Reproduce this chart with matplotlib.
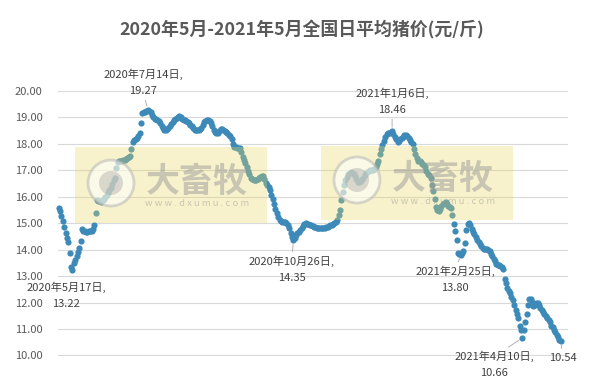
import matplotlib
matplotlib.use('Agg')
import matplotlib.pyplot as plt
from matplotlib.patches import Rectangle, Ellipse
import numpy as np

plt.rcParams['font.family'] = ['Noto Sans CJK SC', 'DejaVu Sans']

# 日均猪价 (元/斤), 2020年5月 - 2021年5月, 按日顺序读取
price_may20 = [15.58, 15.45, 15.26, 15.08, 14.85, 14.62, 14.45, 14.30, 13.87, 13.34,
               13.22, 13.48, 13.62, 13.75, 13.90, 14.05, 14.33, 14.76, 14.72, 14.70,
               14.68, 14.68, 14.69, 14.70, 14.72]
price_jun20 = [14.78, 14.93, 15.37, 15.87, 15.85, 15.82, 15.81, 15.86, 15.92, 15.98,
               16.06, 16.14, 16.24, 16.34, 16.48, 16.62, 16.72, 17.07, 17.30, 17.33,
               17.35, 17.36, 17.37, 17.38, 17.42, 17.46, 17.50, 17.55, 17.79, 18.07]
price_jul20 = [18.15, 18.18, 18.21, 18.30, 18.39, 18.77, 19.15, 19.18, 19.21, 19.22,
               19.27, 19.24, 19.18, 19.10, 19.00, 18.95, 18.92, 18.88, 18.84, 18.78,
               18.68, 18.58, 18.52, 18.53, 18.56, 18.60, 18.66, 18.74, 18.83, 18.88,
               18.94]
price_aug20 = [18.98, 19.01, 19.03, 19.00, 18.95, 18.90, 18.88, 18.85, 18.81, 18.78,
               18.72, 18.65, 18.58, 18.52, 18.50, 18.50, 18.51, 18.54, 18.60, 18.70,
               18.80, 18.85, 18.88, 18.89, 18.86, 18.78, 18.66, 18.52, 18.44, 18.40,
               18.39]
price_sep20 = [18.48, 18.57, 18.56, 18.52, 18.48, 18.45, 18.40, 18.34, 18.28, 18.16,
               18.00, 17.89, 17.86, 17.84, 17.83, 17.85, 17.70, 17.51, 17.40, 17.28,
               17.12, 16.98, 16.85, 16.72, 16.66, 16.64, 16.63, 16.63, 16.66, 16.70]
price_oct20 = [16.73, 16.76, 16.78, 16.65, 16.52, 16.44, 16.35, 16.25, 16.08, 15.92,
               15.72, 15.55, 15.40, 15.22, 15.10, 15.07, 15.06, 15.05, 15.06, 15.02,
               14.92, 14.82, 14.62, 14.48, 14.35, 14.45, 14.55, 14.62, 14.68, 14.75,
               14.82]
price_nov20 = [14.90, 14.96, 15.00, 14.98, 14.96, 14.94, 14.92, 14.89, 14.87, 14.85,
               14.83, 14.82, 14.81, 14.80, 14.80, 14.81, 14.83, 14.84, 14.86, 14.88,
               14.91, 14.94, 14.96, 14.99, 15.05, 15.12, 15.30, 15.49, 15.87, 16.19]
price_dec20 = [16.44, 16.62, 16.75, 16.85, 16.90, 16.94, 16.88, 16.84, 16.78, 16.65,
               16.55, 16.55, 16.60, 16.66, 16.72, 16.80, 16.88, 16.94, 16.98, 17.00,
               17.01, 17.02, 17.03, 17.10, 17.22, 17.35, 17.62, 17.80, 17.95, 18.10,
               18.25]
price_jan21 = [18.36, 18.40, 18.42, 18.44, 18.46, 18.38, 18.26, 18.16, 18.07, 18.10,
               18.17, 18.22, 18.27, 18.31, 18.33, 18.28, 18.20, 18.12, 18.05, 17.98,
               17.80, 17.60, 17.45, 17.36, 17.34, 17.32, 17.25, 17.18, 17.10, 16.98,
               16.86]
price_feb21 = [16.80, 16.70, 16.45, 16.20, 15.90, 15.62, 15.50, 15.45, 15.55, 15.65,
               15.72, 15.76, 15.78, 15.72, 15.66, 15.62, 15.58, 15.30, 14.96, 14.72,
               14.36, 13.86, 13.84, 13.80, 13.88, 13.95, 14.24, 14.74]
price_mar21 = [14.95, 14.99, 14.92, 14.78, 14.68, 14.60, 14.48, 14.35, 14.28, 14.22,
               14.14, 14.06, 14.04, 14.03, 14.02, 14.00, 13.96, 13.85, 13.74, 13.65,
               13.56, 13.46, 13.43, 13.41, 13.38, 13.34, 13.26, 12.88, 12.75, 12.55,
               12.44]
price_apr21 = [12.36, 12.22, 12.10, 11.90, 11.72, 11.56, 11.40, 11.10, 10.95, 10.66,
               10.98, 11.25, 11.55, 11.90, 12.15, 12.12, 12.02, 11.88, 11.90, 11.98,
               12.00, 11.90, 11.78, 11.72, 11.65, 11.58, 11.50, 11.42, 11.34, 11.25]
price_may21 = [11.12, 11.06, 10.98, 10.88, 10.78, 10.70, 10.60, 10.54]

price = (price_may20 + price_jun20 + price_jul20 + price_aug20 + price_sep20 + price_oct20
         + price_nov20 + price_dec20 + price_jan21 + price_feb21 + price_mar21
         + price_apr21 + price_may21)

yticks = [10, 11, 12, 13, 14, 15, 16, 17, 18, 19, 20]

# 标注: 日期文字和对应的数值 (最后一点只标数值)
label_date = ['2020年5月17日,', '2020年7月14日,', '2020年10月26日,', '2021年1月6日,',
              '2021年2月25日,', '2021年4月10日,', '']
label_value = [13.22, 19.27, 14.35, 18.46, 13.80, 10.66, 10.54]
label_offset = [(-4.6, -18.6), (-3.5, 19.6), (-1.0, -21.4), (0.0, 21.5),
                (-4.1, -18.1), (-20.4, -19.2), (1.4, -11.9)]
label_leader = [False, True, True, True, True, True, True]

W, H = 592, 380
fig = plt.figure(figsize=(W / 100, H / 100), dpi=100)
ax = fig.add_axes([58 / W, 1 - 355.5 / H, 510 / W, (355.5 - 90.7) / H])

x = np.arange(len(price))
ax.scatter(x, price, s=20, color='#3d8ab8', linewidths=0, zorder=3, clip_on=False)

ax.set_ylim(10, 20)
ax.set_xlim(-0.5, 371.2)
ax.set_yticks(yticks)
ax.set_yticklabels([f'{v:.2f}' for v in yticks])
ax.set_xticks([])
ax.tick_params(axis='y', length=0, pad=11, labelsize=8, labelcolor='#595959')
ax.grid(axis='y', color='#d9d9d9', lw=0.8)
ax.set_axisbelow(True)
for s in ax.spines.values():
    s.set_visible(False)

for date, val, (dx, dy), lead in zip(label_date, label_value, label_offset, label_leader):
    i = price.index(val)
    arrow = dict(arrowstyle='-', color='#a6a6a6', lw=0.6, shrinkA=1, shrinkB=3)
    txt_kw = dict(textcoords='offset points', ha='center', va='center',
                  fontsize=8, color='#404040', zorder=4)
    if not date:
        ax.annotate(f'{val:.2f}', xy=(i, val), xytext=(dx, dy),
                    arrowprops=arrow if lead else None, **txt_kw)
        continue
    # 标签在点上方时引线连到数值行, 在下方时连到日期行
    above = dy > 0
    ax.annotate(date, xy=(i, val), xytext=(dx, dy + 6),
                arrowprops=arrow if (lead and not above) else None, **txt_kw)
    ax.annotate(f'{val:.2f}', xy=(i, val), xytext=(dx, dy - 6),
                arrowprops=arrow if (lead and above) else None, **txt_kw)

fig.text(302 / W, 1 - 30 / H, '2020年5月-2021年5月全国日平均猪价(元/斤)',
         ha='center', va='center', fontsize=12.9, fontweight='bold', color='#595959')


# 水印 (大畜牧)
def watermark(x0, x1, y0, y1, cx, cy):
    fig.add_artist(Rectangle((x0 / W, 1 - y1 / H), (x1 - x0) / W, (y1 - y0) / H,
                             transform=fig.transFigure, facecolor='#e8d860',
                             alpha=0.32, edgecolor='none', zorder=5))
    fig.add_artist(Ellipse((cx / W, 1 - cy / H), 46 / W, 46 / H, transform=fig.transFigure,
                           facecolor='white', alpha=0.55, edgecolor='#b8b8b8', lw=2, zorder=6))
    fig.add_artist(Ellipse((cx / W, 1 - cy / H), 24 / W, 24 / H, transform=fig.transFigure,
                           facecolor='#9a9a9a', alpha=0.35, edgecolor='none', zorder=6))
    fig.text((cx + 86) / W, 1 - (cy - 2) / H, '大畜牧', ha='center', va='center',
             fontsize=24.5, fontweight='bold', color='#9a9a9a', alpha=0.5, zorder=7)
    fig.text((cx + 86) / W, 1 - (cy + 21) / H, 'w w w . d x u m u . c o m', ha='center',
             va='center', fontsize=6.8, color='#9a9a9a', alpha=0.5, zorder=7)


watermark(75, 267, 147, 223, 111, 183)
watermark(321, 513, 146, 220, 357, 180)

fig.savefig('out.png', dpi=100)
